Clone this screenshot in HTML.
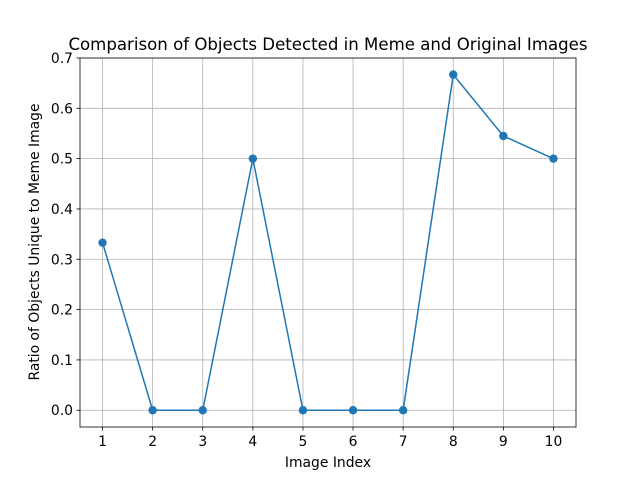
<!DOCTYPE html>
<html><head><meta charset="utf-8"><style>
body{margin:0;background:#fff;font-family:"Liberation Sans","DejaVu Sans",sans-serif;}
svg text{font-family:"DejaVu Sans","Liberation Sans",sans-serif;}
</style></head><body>
<svg id="chart" width="640" height="480" xmlns="http://www.w3.org/2000/svg">
<rect width="640" height="480" fill="#fff"/>
<g id="grid"></g>
<g id="ticks"></g>
<path id="line" fill="none" stroke="#1f77b4" stroke-width="1.5"/>
<g id="pts"></g>
<rect x="80" y="58" width="496" height="369" fill="none" stroke="#000" stroke-width="0.8"/>
<text x="328" y="50" text-anchor="middle" font-size="16.6">Comparison of Objects Detected in Meme and Original Images</text>
<text x="328" y="467" text-anchor="middle" font-size="13.9">Image Index</text>
<text transform="translate(39,242) rotate(-90)" text-anchor="middle" font-size="13.9">Ratio of Objects Unique to Meme Image</text>
</svg>
<script>
const categories=[1,2,3,4,5,6,7,8,9,10];
const values=[0.333,0,0,0.5,0,0,0,0.667,0.545,0.5];
const yTicks=[0,0.1,0.2,0.3,0.4,0.5,0.6,0.7];
const xMin=0.55,xMax=10.45,yMin=-0.0333,yMax=0.7;
const L=80,R=576,T=58,B=427;
const xs=v=>L+(v-xMin)/(xMax-xMin)*(R-L);
const ys=v=>B-(v-yMin)/(yMax-yMin)*(B-T);
const NS="http://www.w3.org/2000/svg";
const grid=document.getElementById('grid'),ticks=document.getElementById('ticks'),pts=document.getElementById('pts');
function mk(tag,attrs,parent){const e=document.createElementNS(NS,tag);for(const k in attrs)e.setAttribute(k,attrs[k]);parent.appendChild(e);return e;}
categories.forEach(c=>{const x=xs(c);
const g=mk('line',{x1:x,x2:x,y1:T,y2:B,stroke:'#b0b0b0','stroke-width':0.8},grid);


mk('line',{x1:x,x2:x,y1:B,y2:B+3.5,stroke:'#000','stroke-width':0.8},ticks);
const t=mk('text',{x:x,y:B+19,'text-anchor':'middle','font-size':13.9},ticks);t.textContent=c;


});
yTicks.forEach(v=>{const y=ys(v);
const g=mk('line',{x1:L,x2:R,y1:y,y2:y,stroke:'#b0b0b0','stroke-width':0.8},grid);


mk('line',{x1:L-3.5,x2:L,y1:y,y2:y,stroke:'#000','stroke-width':0.8},ticks);
const t=mk('text',{x:L-7,y:y+5,'text-anchor':'end','font-size':13.9},ticks);t.textContent=v.toFixed(1);


});
document.getElementById('line').setAttribute('d',categories.map((c,i)=>(i?'L':'M')+xs(c)+','+ys(values[i])).join(''));
categories.forEach((c,i)=>{const p=mk('circle',{cx:xs(c),cy:ys(values[i]),r:4.2,fill:'#1f77b4'},pts);


});
</script>
</body></html>
